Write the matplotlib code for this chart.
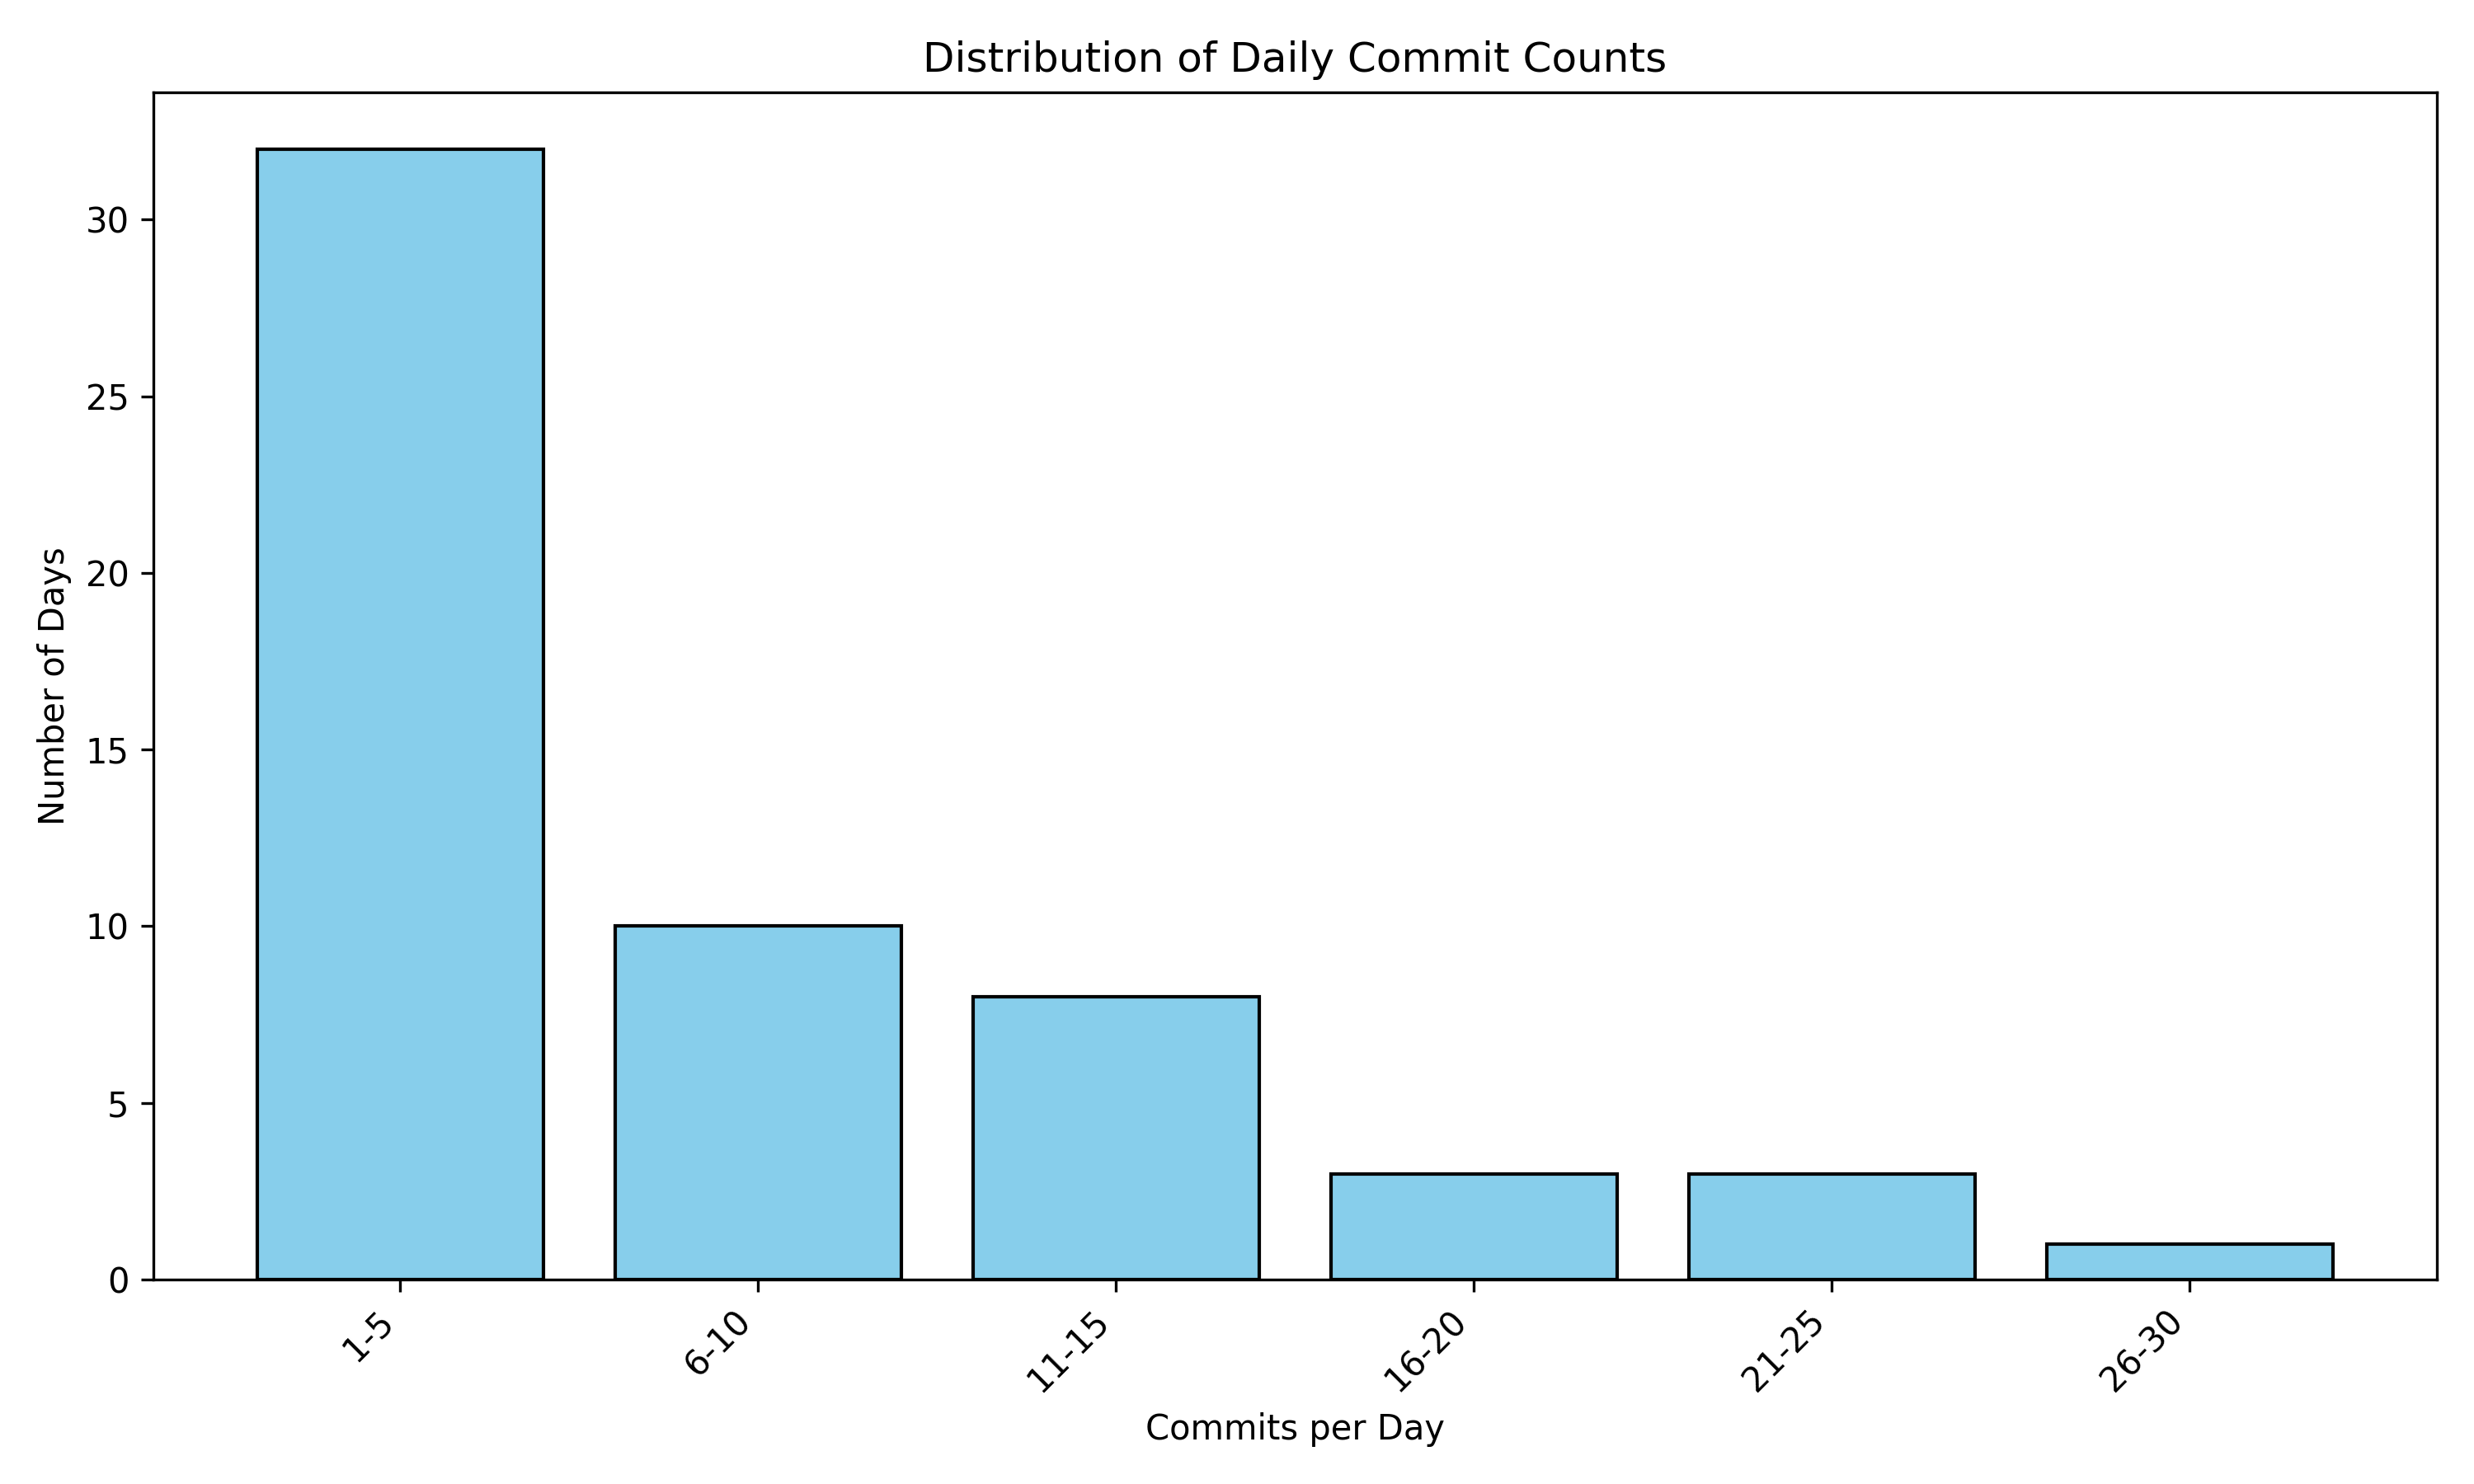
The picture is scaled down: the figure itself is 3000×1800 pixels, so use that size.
import numpy as np
import matplotlib
matplotlib.use('Agg')
import matplotlib.pyplot as plt

# commit count bins and how many days fell in each
bins = ['1-5', '6-10', '11-15', '16-20', '21-25', '26-30']
days = [32, 10, 8, 3, 3, 1]

fig = plt.figure(figsize=(10, 6))
plt.bar(bins, days, color='skyblue', edgecolor='black')
plt.title('Distribution of Daily Commit Counts')
plt.xlabel('Commits per Day')
plt.ylabel('Number of Days')
plt.xticks(rotation=45, ha='right')
plt.tight_layout()
plt.savefig('out.png', dpi=300)
